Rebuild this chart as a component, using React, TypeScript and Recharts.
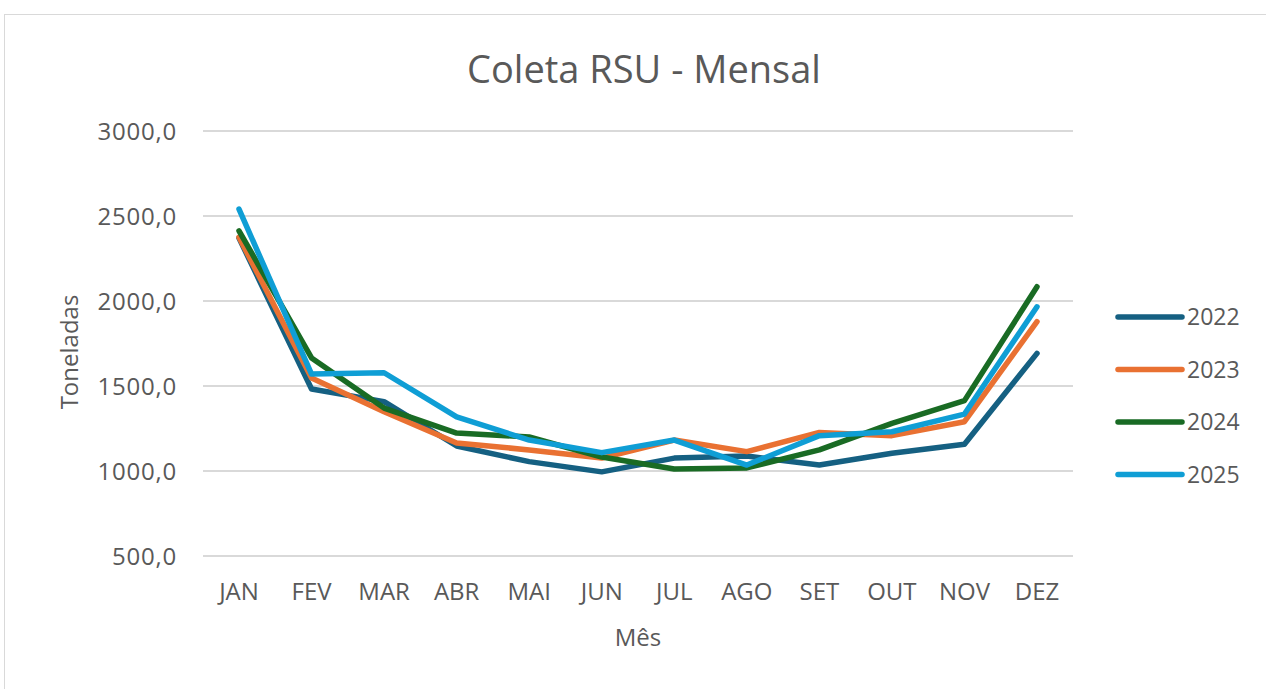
import { LineChart, Line, XAxis, YAxis, CartesianGrid, Legend } from "recharts"

const months = ["JAN", "FEV", "MAR", "ABR", "MAI", "JUN", "JUL", "AGO", "SET", "OUT", "NOV", "DEZ"]
const y2022 = [2370, 1482, 1408, 1147, 1055, 995, 1076, 1088, 1035, 1104, 1157, 1692]
const y2023 = [2375, 1547, 1349, 1165, 1124, 1076, 1182, 1114, 1227, 1208, 1290, 1878]
const y2024 = [2413, 1665, 1370, 1223, 1200, 1082, 1012, 1018, 1124, 1280, 1414, 2084]
const y2025 = [2541, 1570, 1578, 1318, 1182, 1108, 1182, 1035, 1208, 1231, 1335, 1966]
const yTicks = [500, 1000, 1500, 2000, 2500, 3000]

const series = [
    { key: "2022", color: "#156082" },
    { key: "2023", color: "#E97132" },
    { key: "2024", color: "#196B24" },
    { key: "2025", color: "#0F9ED5" },
]

const data = months.map((m, i) => ({
    mes: m,
    "2022": y2022[i],
    "2023": y2023[i],
    "2024": y2024[i],
    "2025": y2025[i],
}))

const font = "'Open Sans', sans-serif"
const textColor = "#595959"

function LegendBox({ payload }: any) {
    return (
        <svg width={140} height={220} style={{ display: "block" }}>
            {(payload || []).map((p: any, i: number) => (
                <g key={p.value} transform={`translate(0, ${17 + i * 52.5})`}>
                    <line x1={3} y1={0} x2={67} y2={0} stroke={p.color} strokeWidth={5.5} strokeLinecap="round" />
                    <text x={72} y={0} dy="0.35em" fontSize={23} fill={textColor} fontFamily={font}>
                        {p.value}
                    </text>
                </g>
            ))}
        </svg>
    )
}

export default function App() {
    return (
        <div style={{ position: "absolute", left: 0, top: 0, width: 1266, height: 689, overflow: "hidden", background: "#fff" }}>
            <div style={{ position: "absolute", left: 4, top: 14, width: 1300, height: 700, border: "1px solid #d9d9d9" }} />
            <div style={{ position: "absolute", left: 0, top: 0 }}>
                <LineChart width={1266} height={689} data={data} margin={{ top: 131, right: 53, bottom: 0, left: 0 }}>
                    <CartesianGrid vertical={false} stroke="#d9d9d9" strokeWidth={2} />
                    <XAxis
                        dataKey="mes"
                        axisLine={false}
                        tickLine={false}
                        tickSize={0}
                        tickMargin={27}
                        height={133}
                        interval={0}
                        padding={{ left: 36, right: 36 }}
                        tick={{ fontSize: 24, fill: textColor, fontFamily: font }}
                    />
                    <YAxis
                        domain={[500, 3000]}
                        ticks={yTicks}
                        width={203}
                        axisLine={false}
                        tickLine={false}
                        tickSize={0}
                        tickMargin={26}
                        tick={{ fontSize: 24, fill: textColor, fontFamily: font, letterSpacing: 0.8 }}
                        tickFormatter={(v: number) => v.toFixed(1).replace(".", ",")}
                    />
                    <Legend
                        layout="vertical"
                        align="right"
                        verticalAlign="middle"
                        content={<LegendBox />}
                        wrapperStyle={{ position: "absolute", left: 1115, top: 300, width: 140, height: 220 }}
                    />
                    {series.map((s) => (
                        <Line
                            key={s.key}
                            type="linear"
                            dataKey={s.key}
                            name={s.key}
                            stroke={s.color}
                            strokeWidth={5.5}
                            strokeLinejoin="round"
                            strokeLinecap="round"
                            dot={false}
                            activeDot={false}
                            isAnimationActive={false}
                        />
                    ))}
                </LineChart>
            </div>
            <div style={{ position: "absolute", left: 0, width: 1288, top: 42, textAlign: "center", fontFamily: font, fontSize: 38, color: textColor }}>
                Coleta RSU - Mensal
            </div>
            <div style={{ position: "absolute", left: 0, width: 1276, top: 620, textAlign: "center", fontFamily: font, fontSize: 24, color: textColor }}>
                Mês
            </div>
            <div
                style={{
                    position: "absolute",
                    left: 68,
                    top: 352,
                    transform: "translate(-50%, -50%) rotate(-90deg)",
                    fontFamily: font,
                    fontSize: 24,
                    color: textColor,
                    whiteSpace: "nowrap",
                }}
            >
                Toneladas
            </div>
        </div>
    )
}
